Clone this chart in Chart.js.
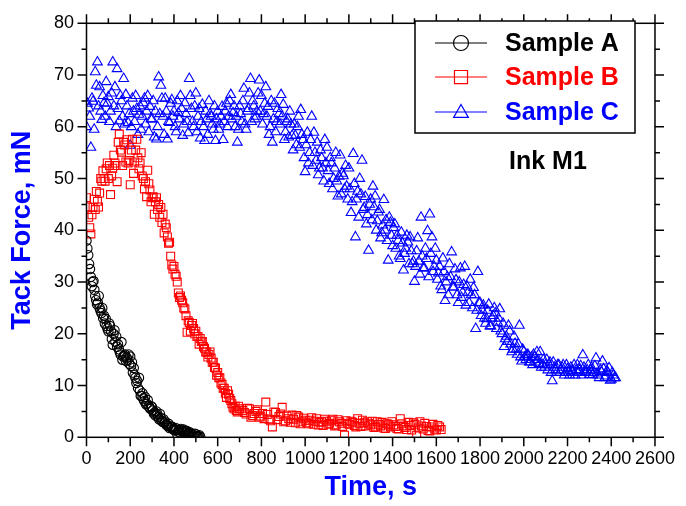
<!DOCTYPE html>
<html>
<head>
<meta charset="utf-8">
<script src="https://cdn.jsdelivr.net/npm/chart.js@4"></script>
<style>
  html, body { margin: 0; padding: 0; background: #fff; }
  #tack-chart { display: block; }
</style>
</head>
<body>
<canvas id="tack-chart" width="686" height="506"></canvas>
<script>
// Tack force vs time, three samples (Ink M1)

var seriesNames = ['Sample A', 'Sample B', 'Sample C'];

// Sample A - two interleaved reading passes
var timeA = [0, 8, 16, 24, 32, 40, 48, 56, 64, 72,
  80, 88, 96, 104, 112, 120, 128, 136, 144, 152,
  160, 168, 176, 184, 192, 200, 208, 216, 224, 232,
  240, 248, 256, 264, 272, 280, 288, 296, 304, 312,
  320, 328, 336, 344, 352, 360, 368, 376, 384, 392,
  400, 408, 416, 424, 432, 440, 448, 456, 464, 472,
  480, 488, 496, 504, 512, 520];
var forceA = [38, 35.2, 32.5, 29.2, 30.2, 27.3, 25.7, 27.3, 24.5, 25,
  23.5, 22.9, 21, 22, 20.5, 17.9, 20.7, 19.5, 18, 16.5,
  18.4, 15.6, 16, 15.4, 16, 15.6, 14.5, 13.4, 11.5, 10.9,
  11.5, 8, 8.5, 7, 6.4, 7.2, 5.8, 6, 5.2, 4.8,
  5, 3.9, 4.5, 3.2, 3.5, 3, 2.3, 2.6, 2, 2,
  1.5, 1.8, 0.5, 1.4, 1.6, 1, 1.2, 1.1, 0.8, 1,
  0.6, 0.4, 0.7, 0.3, 0.2, 0.1];
var timeA2 = [4, 12, 20, 28, 36, 44, 52, 60, 68, 76,
  84, 92, 100, 108, 116, 124, 132, 140, 148, 156,
  164, 172, 180, 188, 196, 204, 212, 220, 228, 236,
  244, 252, 260, 268, 276, 284, 292, 300, 308, 316,
  324, 332, 340, 348, 356, 364, 372, 380, 388, 396,
  404, 412, 420, 428, 436, 444, 452, 460, 468, 476,
  484, 492, 500, 508, 516];
var forceA2 = [36.5, 33.5, 31, 30, 28.5, 26.5, 26, 25, 24, 23,
  22, 21.5, 20.5, 21.5, 19, 20, 18.5, 17.5, 17, 16,
  15, 15.8, 14.8, 15, 14.2, 13.8, 12.5, 12, 10.5, 9.5,
  9, 8, 7.5, 7.8, 6.5, 6, 5.5, 5.8, 4.6, 4.2,
  4.4, 3.5, 3.8, 3, 2.8, 2.5, 2.2, 1.8, 2.1, 1.6,
  1.3, 1.5, 1.1, 0.9, 1.3, 1.5, 0.9, 1.2, 0.6, 0.8,
  0.5, 0.3, 0.6, 0.2, 0.4];

// Sample B
var timeB = [0, 10, 20, 30, 40, 50, 60, 70, 80, 90,
  100, 110, 120, 130, 140, 150, 160, 170, 180, 190,
  200, 210, 220, 230, 240, 250, 260, 270, 280, 290,
  300, 310, 320, 330, 340, 350, 360, 370, 380, 390,
  400, 410, 420, 430, 440, 450, 460, 470, 480, 490,
  500, 510, 520, 530, 540, 550, 560, 570, 580, 590,
  600, 610, 620, 630, 640, 650, 660, 670, 680, 690, 700,
  715, 730, 745, 760, 775, 790, 805, 820, 835, 850,
  865, 880, 895, 910, 925, 940, 955, 970, 985, 1000,
  1015, 1030, 1045, 1060, 1075, 1090, 1105, 1120, 1135, 1150,
  1165, 1180, 1195, 1210, 1225, 1240, 1255, 1270, 1285, 1300,
  1315, 1330, 1345, 1360, 1375, 1390, 1405, 1420, 1435, 1450,
  1465, 1480, 1495, 1510, 1525, 1540, 1555, 1570, 1585, 1600, 1615];
var forceB = [46.3, 42.5, 39.3, 44.4, 44, 45.6, 47.2, 49.5, 50, 51.9,
  50, 46.9, 52, 53, 49.4, 58.6, 55.1, 57, 53.2, 53,
  48.8, 57.6, 53.2, 57.6, 51.9, 55, 50, 49.4, 51.6, 47.8,
  46.3, 43.1, 46.3, 45, 44.4, 43.1, 41.2, 38.7, 37.7, 33.3,
  33, 31.1, 27.9, 27.3, 26, 24.8, 20.3, 22.2, 21.6, 21,
  20.5, 19.5, 19.1, 18.5, 17.2, 16.5, 16, 15.3, 14.5, 13.4,
  12.5, 11.5, 10.2, 9.5, 7.7, 8.3, 7.1, 5.8, 6, 4.9, 5.5,
  5.2, 4.5, 5.5, 4.2, 5, 3.9, 4.6, 6.8, 3.5, 2,
  4.8, 4, 5.8, 3.2, 3.6, 4.3, 2.8, 3.9, 3, 3.3,
  2.6, 3.8, 3.1, 2.4, 3, 3.5, 2.5, 3.2, 2.2, 3.4,
  2.7, 0.4, 2.6, 3.1, 2.3, 3.6, 2.1, 2.8, 3, 2.4,
  1.9, 3, 2.2, 1.8, 2.6, 2, 2.4, 1.7, 3.6, 2.2,
  1.5, 2.3, 2.8, 0.4, 3, 1.6, 2.1, 1.2, 2.5, 1.4, 2];
var timeB2 = [5, 15, 25, 35, 45, 55, 65, 75, 85, 95,
  105, 115, 125, 135, 145, 155, 165, 175, 185, 195,
  205, 215, 225, 235, 245, 255, 265, 275, 285, 295,
  305, 315, 325, 335, 345, 355, 365, 375, 385, 395,
  405, 415, 425, 435, 445, 455, 465, 475, 485, 495,
  505, 515, 525, 535, 545, 555, 565, 575, 585, 595,
  605, 615, 625, 635, 645, 655, 665, 675, 685, 695,
  722, 737, 752, 767, 782, 797, 812, 827, 842, 857,
  872, 887, 902, 917, 932, 947, 962, 977, 992, 1007,
  1022, 1037, 1052, 1067, 1082, 1097, 1112, 1127, 1142, 1157,
  1172, 1187, 1202, 1217, 1232, 1247, 1262, 1277, 1292, 1307,
  1322, 1337, 1352, 1367, 1382, 1397, 1412, 1427, 1442, 1457,
  1472, 1487, 1502, 1517, 1532, 1547, 1562, 1577, 1592, 1607, 1622];
var forceB2 = [44.5, 40.5, 43, 46, 47.5, 44.5, 50, 51.5, 49.5, 53,
  52.5, 50.5, 54.5, 52.5, 57, 55.5, 52.5, 56.5, 57.5, 53.5,
  55.5, 51, 55.5, 54, 53, 50.5, 48, 46.5, 49, 45.5,
  46.5, 45.5, 44, 42.5, 41.5, 39.5, 40.5, 37.5, 35, 32.5,
  31.5, 30, 27, 26.5, 25, 23.5, 22.5, 20.5, 22, 20,
  19.5, 18, 18.5, 17.5, 16.5, 15.5, 16.5, 14.5, 13.5, 12,
  11.5, 10.5, 9.5, 8.5, 9, 7.5, 6.5, 5.5, 5.2, 6,
  4.8, 5.6, 3.9, 4.6, 5.3, 4.1, 3.6, 4.4, 3.2, 4.9,
  3.4, 4.5, 3, 4.1, 2.9, 3.5, 4.2, 2.6, 3.7, 2.8,
  3.3, 2.5, 3.6, 2.9, 2.3, 3.1, 2.7, 3.5, 2.4, 3,
  2.1, 3.2, 2.5, 2.9, 2, 2.7, 3.3, 2.2, 2.6, 3.1,
  2, 2.5, 2.9, 1.7, 2.4, 3, 2.1, 1.6, 2.6, 1.9,
  2.9, 1.4, 2.5, 1.8, 2.2, 2.7, 1.3, 2, 1.6, 2.3, 1.5];

// Sample C
var timeC = [0, 10, 20, 30, 40, 50, 60, 70, 80, 90,
  100, 110, 120, 130, 140, 150, 160, 170, 180, 190,
  200, 210, 220, 230, 240, 250, 260, 270, 280, 290,
  300, 310, 320, 330, 340, 350, 360, 370, 380, 390,
  400, 410, 420, 430, 440, 450, 460, 470, 480, 490,
  500, 510, 520, 530, 540, 550, 560, 570, 580, 590,
  600, 610, 620, 630, 640, 650, 660, 670, 680, 690,
  700, 710, 720, 730, 740, 750, 760, 770, 780, 790,
  800, 810, 820, 830, 840, 850, 860, 870, 880, 890,
  900, 910, 920, 930, 940, 950, 960, 970, 980, 990,
  1000, 1010, 1020, 1030, 1040, 1050, 1060, 1070, 1080, 1090,
  1100, 1110, 1120, 1130, 1140, 1150, 1160, 1170, 1180, 1190,
  1200, 1210, 1220, 1230, 1240, 1250, 1260, 1270, 1280, 1290,
  1300, 1310, 1320, 1330, 1340, 1350, 1360, 1370, 1380, 1390,
  1400, 1410, 1420, 1430, 1440, 1450, 1460, 1470, 1480, 1490,
  1500, 1510, 1520, 1530, 1540, 1550, 1560, 1570, 1580, 1590,
  1600, 1610, 1620, 1630, 1640, 1650, 1660, 1670, 1680, 1690,
  1700, 1710, 1720, 1730, 1740, 1750, 1760, 1770, 1780, 1790,
  1800, 1810, 1820, 1830, 1840, 1850, 1860, 1870, 1880, 1890,
  1900, 1910, 1920, 1930, 1940, 1950, 1960, 1970, 1980, 1990,
  2000, 2010, 2020, 2030, 2040, 2050, 2060, 2070, 2080, 2090,
  2100, 2110, 2120, 2130, 2140, 2150, 2160, 2170, 2180, 2190,
  2200, 2210, 2220, 2230, 2240, 2250, 2260, 2270, 2280, 2290,
  2300, 2310, 2320, 2330, 2340, 2350, 2360, 2370, 2380, 2390,
  2400, 2410, 2420];
var forceC = [60, 63.6, 56, 64.9, 70.6, 72.5, 67.7, 61.4, 64.6, 68.7,
  65.8, 63, 72.5, 67.7, 71.2, 61.1, 65, 69.3, 66.2, 60.8,
  56.4, 65.5, 61, 63.5, 62.4, 59.5, 64.6, 60.5, 66, 63.9,
  61.5, 58, 57.6, 69.6, 68, 62, 65.5, 57.6, 60.8, 65.2,
  63, 59, 62.7, 66, 58.3, 64.6, 61, 69.3, 63.5, 60,
  66.5, 62, 57.8, 64.3, 57.3, 61.5, 65, 62, 59.5, 57.3,
  63, 60.5, 63.9, 61, 64.5, 62, 66.2, 62.7, 60, 57,
  64, 61, 67.4, 59.5, 63.5, 69.3, 65, 61.5, 63, 69,
  66, 62.5, 67.7, 63.9, 60, 57, 64.5, 61, 62.5, 66.2,
  64.3, 59, 61.5, 63, 58.3, 60.5, 56.5, 62, 63.3, 57.5,
  51.3, 58.9, 55, 62, 58.9, 53.5, 50.7, 55.5, 52, 57.5,
  56, 49, 53, 50, 55, 46.6, 54.5, 51, 48, 48.5,
  52, 43.4, 54.8, 38.7, 47.5, 50, 53.5, 44.4, 41.2, 36.1,
  46, 48.5, 46.6, 41.8, 44, 39.5, 45.9, 42, 34.2, 41.5,
  37, 41.2, 39, 35, 39.6, 32.3, 36.5, 37.7, 38.7, 33.5,
  30.1, 36, 34, 42.5, 32.7, 36.5, 39.9, 43.1, 38.7, 33,
  34.2, 31.7, 29.2, 34.6, 26.4, 31, 33.5, 35.8, 29, 30.4,
  26, 32.7, 28, 33, 29.2, 26, 27.5, 28.9, 21, 32,
  26, 24.5, 23, 22.9, 25.7, 21.5, 23.5, 24, 22.2, 24.8,
  20, 17.5, 19.5, 21.6, 18, 17, 18.1, 16, 21.6, 14.7,
  16.5, 15, 15.9, 14.5, 14, 15.5, 16.5, 14.2, 13.5, 15,
  14, 13, 14.5, 10.9, 13.5, 12.5, 14, 13, 14, 12.5,
  13.2, 12, 12.8, 14, 13, 12.5, 13.8, 15.9, 12.6, 13,
  12.1, 13.5, 12.5, 15.3, 12, 13, 14.7, 11.5, 12.8, 13.4,
  11.2, 12, 11.5];
var timeC2 = [5, 15, 25, 35, 45, 55, 65, 75, 85, 95,
  105, 115, 125, 135, 145, 155, 165, 175, 185, 195,
  205, 215, 225, 235, 245, 255, 265, 275, 285, 295,
  305, 315, 325, 335, 345, 355, 365, 375, 385, 395,
  405, 415, 425, 435, 445, 455, 465, 475, 485, 495,
  505, 515, 525, 535, 545, 555, 565, 575, 585, 595,
  605, 615, 625, 635, 645, 655, 665, 675, 685, 695,
  705, 715, 725, 735, 745, 755, 765, 775, 785, 795,
  805, 815, 825, 835, 845, 855, 865, 875, 885, 895,
  905, 915, 925, 935, 945, 955, 965, 975, 985, 995,
  1005, 1015, 1025, 1035, 1045, 1055, 1065, 1075, 1085, 1095,
  1105, 1115, 1125, 1135, 1145, 1155, 1165, 1175, 1185, 1195,
  1205, 1215, 1225, 1235, 1245, 1255, 1265, 1275, 1285, 1295,
  1305, 1315, 1325, 1335, 1345, 1355, 1365, 1375, 1385, 1395,
  1405, 1415, 1425, 1435, 1445, 1455, 1465, 1475, 1485, 1495,
  1505, 1515, 1525, 1535, 1545, 1555, 1565, 1575, 1585, 1595,
  1605, 1615, 1625, 1635, 1645, 1655, 1665, 1675, 1685, 1695,
  1705, 1715, 1725, 1735, 1745, 1755, 1765, 1775, 1785, 1795,
  1805, 1815, 1825, 1835, 1845, 1855, 1865, 1875, 1885, 1895,
  1905, 1915, 1925, 1935, 1945, 1955, 1965, 1975, 1985, 1995,
  2005, 2015, 2025, 2035, 2045, 2055, 2065, 2075, 2085, 2095,
  2105, 2115, 2125, 2135, 2145, 2155, 2165, 2175, 2185, 2195,
  2205, 2215, 2225, 2235, 2245, 2255, 2265, 2275, 2285, 2295,
  2305, 2315, 2325, 2335, 2345, 2355, 2365, 2375, 2385, 2395,
  2405, 2415];
var forceC2 = [64.5, 62, 65.5, 59.5, 68, 64, 63, 66, 62, 64.5,
  61, 66.5, 64, 60, 63.5, 66, 62, 60.5, 64, 62.5,
  60, 63, 66, 58.5, 64, 62, 65.5, 63, 59, 61.5,
  65, 63, 60, 62.5, 65.5, 58.5, 63, 61, 64.5, 62,
  60, 65, 61.5, 63.5, 60.5, 62.5, 58.8, 66, 61, 64,
  59, 63.5, 61, 60, 63, 58.5, 62.5, 60.5, 64, 61.5,
  59.5, 62, 57.5, 63, 60, 65, 61.5, 64, 62, 59.5,
  62.5, 65, 60.5, 63, 66.5, 61, 64, 62, 66.5, 63,
  60.5, 64.5, 62, 58.5, 65, 61.5, 59, 63.5, 60.5, 62,
  57.5, 61, 58, 60.5, 55.5, 58.3, 60, 56, 58.5, 54,
  56.5, 53, 57.5, 52.5, 55, 57, 52, 54, 49.5, 53,
  51.5, 54, 48, 52, 49.5, 50.4, 47, 50.5, 52.5, 46,
  48, 45.5, 49, 46, 42.5, 47, 44, 46.5, 43, 45,
  42, 44.5, 40, 43.5, 38.5, 41, 40, 38, 42.5, 39,
  40.5, 36.5, 38, 34.5, 37.5, 35.5, 39, 33.5, 36, 34,
  33, 38.5, 31.5, 35, 32.7, 34.5, 31, 35.5, 32, 36.5,
  30.5, 33, 28.5, 32, 30, 27.5, 31, 29, 32.5, 27.5,
  30, 27, 29.5, 25.5, 28, 30.5, 25, 27.5, 24.5, 26,
  23.5, 25.5, 22, 24.5, 21.5, 23, 25, 21, 23, 20.5,
  22, 19, 18.5, 20.5, 16.5, 19.5, 17, 18, 15.5, 17,
  15.5, 16, 14.5, 15.5, 16, 14.5, 15, 16.5, 14, 13.5,
  15, 14, 12.5, 14.5, 13, 14, 12.5, 13.5, 12, 14,
  12.5, 13.5, 12.8, 12, 14, 13, 12, 13.5, 12.5, 14,
  13, 12, 13.8, 12.4, 11.5, 12.7, 13.2, 11.8, 12.5, 11,
  12.5, 11.5];

var xTickValues = [0, 200, 400, 600, 800, 1000, 1200, 1400, 1600, 1800, 2000, 2200, 2400, 2600];
var yTickValues = [0, 10, 20, 30, 40, 50, 60, 70, 80];

function pts(t, f) {
    return t.map(function (v, i) { return { x: v, y: f[i] }; });
}

var font = "'Liberation Sans', Arial, sans-serif";
var blue = '#0000ff';

// box frame with outward ticks on all four sides (major + minor)
var framePlugin = {
    id: 'frame',
    afterDatasetsDraw: function (chart) {
        var ctx = chart.ctx, a = chart.chartArea;
        var xs = chart.scales.x, ys = chart.scales.y;
        ctx.save();
        ctx.strokeStyle = '#000';
        ctx.lineWidth = 1.5;
        ctx.strokeRect(a.left, a.top, a.right - a.left, a.bottom - a.top);
        ctx.beginPath();
        for (var v = 0; v <= 2600; v += 100) {
            var px = xs.getPixelForValue(v);
            var len = v % 200 ? 5 : 9;
            ctx.moveTo(px, a.bottom); ctx.lineTo(px, a.bottom + len);
            ctx.moveTo(px, a.top); ctx.lineTo(px, a.top - len);
        }
        for (var w = 0; w <= 80; w += 5) {
            var py = ys.getPixelForValue(w);
            var l2 = w % 10 ? 5 : 9;
            ctx.moveTo(a.left, py); ctx.lineTo(a.left - l2, py);
            ctx.moveTo(a.right, py); ctx.lineTo(a.right + l2, py);
        }
        ctx.stroke();
        ctx.restore();
    }
};

function marker(ctx, style, x, y, r) {
    ctx.beginPath();
    if (style === 'circle') {
        ctx.arc(x, y, r, 0, Math.PI * 2);
    } else if (style === 'rect') {
        ctx.rect(x - r * 0.87, y - r * 0.87, r * 1.74, r * 1.74);
    } else {
        ctx.moveTo(x, y - r);
        ctx.lineTo(x + r * 0.98, y + r * 0.72);
        ctx.lineTo(x - r * 0.98, y + r * 0.72);
        ctx.closePath();
    }
    ctx.stroke();
}

// legend box + "Ink M1" label
var legendPlugin = {
    id: 'boxLegend',
    afterDraw: function (chart) {
        var ctx = chart.ctx;
        ctx.save();
        ctx.fillStyle = '#fff';
        ctx.fillRect(415, 21, 220, 112);
        ctx.strokeStyle = '#000';
        ctx.lineWidth = 1.5;
        ctx.strokeRect(415, 21, 220, 112);
        var rows = [43, 77, 112];
        chart.data.datasets.forEach(function (ds, i) {
            var y = rows[i];
            ctx.strokeStyle = ds.borderColor;
            ctx.lineWidth = 1.2;
            ctx.beginPath();
            ctx.moveTo(435, y); ctx.lineTo(487, y);
            ctx.stroke();
            marker(ctx, ds.pointStyle, 461, y, 7.5);
            ctx.fillStyle = ds.textColor;
            ctx.font = 'bold 25px ' + font;
            ctx.textBaseline = 'middle';
            ctx.fillText(ds.label, 505, y + 1);
        });
        ctx.fillStyle = '#000';
        ctx.font = 'bold 25px ' + font;
        ctx.fillText('Ink M1', 509, 162);
        ctx.restore();
    }
};

var ctx = document.getElementById('tack-chart').getContext('2d');
var tackChart = new Chart(ctx, {
    type: 'scatter',
    data: {
        datasets: [{
            label: seriesNames[0],
            data: pts(timeA, forceA).concat(pts(timeA2, forceA2)),
            pointStyle: 'circle',
            pointRadius: 4.7,
            borderColor: '#000000',
            textColor: '#000000',
            backgroundColor: 'rgba(0,0,0,0)',
            pointBorderWidth: 1.1
        }, {
            label: seriesNames[1],
            data: pts(timeB, forceB).concat(pts(timeB2, forceB2)),
            pointStyle: 'rect',
            pointRadius: 5.6,
            borderColor: '#ff0000',
            textColor: '#ff0000',
            backgroundColor: 'rgba(0,0,0,0)',
            pointBorderWidth: 1.1
        }, {
            label: seriesNames[2],
            data: pts(timeC, forceC).concat(pts(timeC2, forceC2)),
            pointStyle: 'triangle',
            pointRadius: 5.6,
            borderColor: blue,
            textColor: blue,
            backgroundColor: 'rgba(0,0,0,0)',
            pointBorderWidth: 1.1
        }]
    },
    options: {
        responsive: false,
        animation: false,
        layout: { padding: { top: 15.3, right: 27, left: 0, bottom: 0 } },
        plugins: {
            legend: { display: false },
            tooltip: { enabled: false }
        },
        scales: {
            x: {
                type: 'linear',
                min: 0,
                max: 2600,
                afterFit: function (s) { s.height = 68.7; },
                afterBuildTicks: function (s) { s.ticks = xTickValues.map(function (v) { return { value: v }; }); },
                grid: { display: false, drawTicks: false },
                border: { display: false },
                ticks: {
                    padding: 11,
                    color: '#000',
                    maxRotation: 0,
                    autoSkip: false,
                    font: { family: font, size: 18 },
                    callback: function (v) { return String(v); }
                },
                title: {
                    display: true,
                    text: 'Time, s',
                    color: blue,
                    padding: { top: 0, bottom: 1.8 },
                    font: { family: font, size: 27, weight: 'bold', lineHeight: 1.2 }
                }
            },
            y: {
                min: 0,
                max: 80,
                afterFit: function (s) { s.width = 86.5; },
                afterBuildTicks: function (s) { s.ticks = yTickValues.map(function (v) { return { value: v }; }); },
                grid: { display: false, drawTicks: false },
                border: { display: false },
                ticks: {
                    padding: 12.5,
                    color: '#000',
                    font: { family: font, size: 18 },
                    callback: function (v) { return String(v); }
                },
                title: {
                    display: true,
                    text: 'Tack Force, mN',
                    color: blue,
                    padding: { top: 6.8, bottom: 0 },
                    font: { family: font, size: 27, weight: 'bold', lineHeight: 1.2 }
                }
            }
        }
    },
    plugins: [framePlugin, legendPlugin]
});
</script>
</body>
</html>
